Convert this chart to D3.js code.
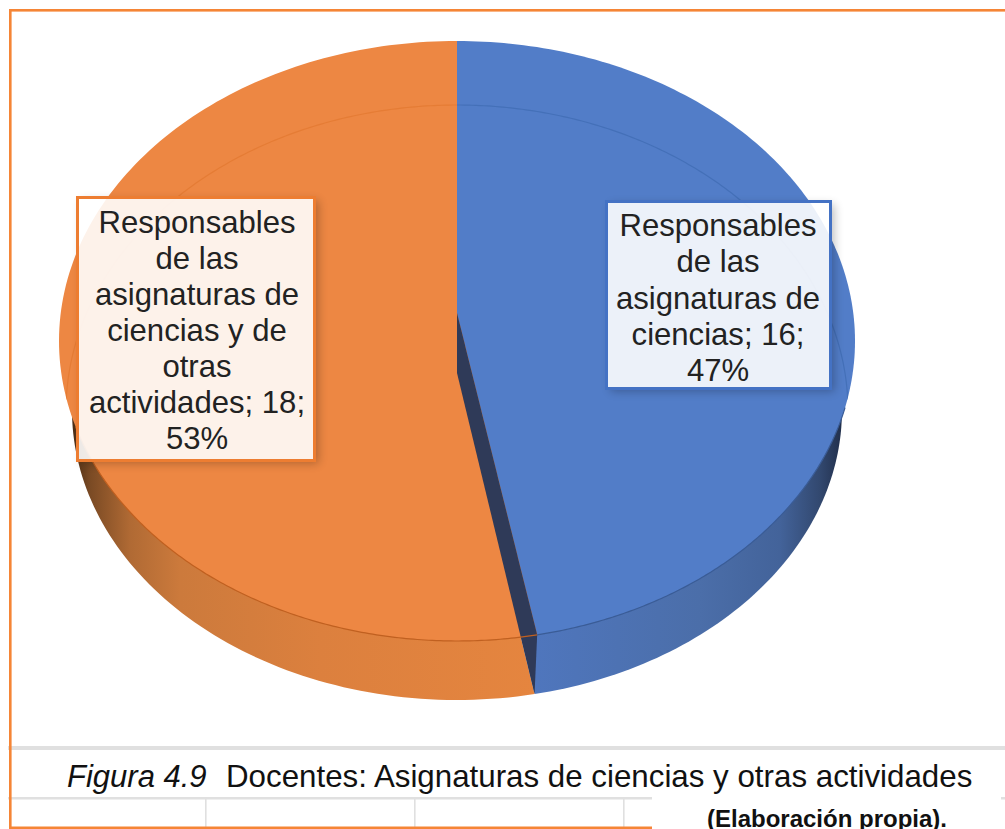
<!DOCTYPE html>
<html>
<head>
<meta charset="utf-8">
<script src="https://cdn.jsdelivr.net/npm/d3@7"></script>
<style>
html,body{margin:0;padding:0;background:#fff;overflow:hidden}
svg{display:block}
text{font-family:"Liberation Sans",Arial,sans-serif}
</style>
</head>
<body>
<div id="chart"></div>
<script>
// ---- data ----
const categories = ["Responsables de las asignaturas de ciencias", "Responsables de las asignaturas de ciencias y de otras actividades"];
const values = [16, 18];
const labelBreaks = [
  ["Responsables", "de las", "asignaturas de"],
  ["Responsables", "de las", "asignaturas de", "ciencias y de", "otras"]
];
const labelTails = ["ciencias;", "actividades;"];
const caption = ["Figura 4.9", "Docentes: Asignaturas de ciencias y otras actividades"];
const source = "(Elaboración propia).";
const gridColumns = [205, 414, 623];

// ---- styles / layout ----
const W = 1005, H = 829;
const faceColors = ["#527dc8", "#ed8743"];
const borderColors = ["#4472c4", "#ed7d31"];
const frame = "#f58536", rule = "#e0e0e0";
const topEllipse = {cx: 457, cy: 341, rx: 398, ry: 300};
const botEllipse = {cx: 457, cy: 410, rx: 385, ry: 290};
const ringEllipse = {cx: 457, cy: 411, rx: 391, ry: 306};
const topApex = [457, 313], botApex = [457, 373];
const tilt = (topApex[1] - topEllipse.cy) / topEllipse.ry;
const boxes = [
  {x: 606.5, y: 201.5, w: 224, h: 187, tx: 718, base: 236, step: 36.25},
  {x: 77.5, y: 197.5, w: 237, h: 263, tx: 197, base: 232.5, step: 36}
];

const svg = d3.select("#chart").append("svg").attr("width", W).attr("height", H);
const defs = svg.append("defs");

function gradient(id, stops) {
  const g = defs.append("linearGradient").attr("id", id).attr("gradientUnits", "userSpaceOnUse")
    .attr("x1", stops[0][0]).attr("x2", stops[stops.length - 1][0]).attr("y1", 0).attr("y2", 0);
  const span = stops[stops.length - 1][0] - stops[0][0];
  stops.forEach(s => g.append("stop").attr("offset", (s[0] - stops[0][0]) / span).attr("stop-color", s[1]));
}
gradient("wall0", [[535, "#4f76bd"], [700, "#4b6ea9"], [780, "#43639a"], [820, "#32486f"], [845, "#1f2c47"]]);
gradient("wall1", [[72, "#4a2c14"], [90, "#7a4a24"], [130, "#b06a34"], [180, "#cc7a3c"], [320, "#dc803e"], [535, "#e5853f"]]);
defs.append("filter").attr("id", "blur").attr("x", "-20%").attr("y", "-20%").attr("width", "140%").attr("height", "140%")
  .append("feGaussianBlur").attr("stdDeviation", 5);

// ---- geometry driven by d3.pie ----
const arcs = d3.pie().sort(null).value(d => d)(values);
const total = d3.sum(values);
const pct = d3.format(".0%");

function project(e, t) {
  const x = Math.sin(t), y = -Math.cos(t);
  const d = 1 + tilt * y;
  return [e.cx + e.rx * x * Math.sqrt(1 - tilt * tilt) / d, e.cy + e.ry * (y + tilt) / d];
}
function sweep(e, a0, a1) {
  const n = 160;
  return d3.range(n + 1).map(i => project(e, a0 + (a1 - a0) * i / n));
}
const line = d3.line();
const sector = (e, apex, a) => line([apex, ...sweep(e, a.startAngle, a.endAngle), apex]) + "Z";

// side walls
svg.selectAll("path.wall").data(arcs).join("path").attr("class", "wall")
  .attr("d", d => sector(botEllipse, botApex, d))
  .attr("fill", (d, i) => `url(#wall${i})`);

// faces
svg.selectAll("path.face").data(arcs).join("path").attr("class", "face")
  .attr("d", d => sector(topEllipse, topApex, d))
  .attr("fill", (d, i) => faceColors[i]);

// inner wall of the cut
const cutEnd = arcs[0].endAngle;
svg.append("path")
  .attr("d", line([topApex, project(topEllipse, cutEnd), project(botEllipse, cutEnd), botApex]) + "Z")
  .attr("fill", "#2f3a58");

// rim lines
const clip = defs.append("clipPath").attr("id", "faceClip");
clip.append("path").attr("d", line(sweep(topEllipse, 0, 2 * Math.PI)) + "Z");
const ringG = svg.append("g").attr("clip-path", "url(#faceClip)");
const ringColors = ["#4470b8", "#e57c35"];
ringG.append("path").attr("d", line(sweep(ringEllipse, 0, Math.PI * 0.55)))
  .attr("fill", "none").attr("stroke", ringColors[0]).attr("stroke-width", 1.2);
ringG.append("path").attr("d", line(sweep(ringEllipse, Math.PI * 1.45, 2 * Math.PI)))
  .attr("fill", "none").attr("stroke", ringColors[1]).attr("stroke-width", 1.2);

svg.append("path").attr("d", line(sweep(topEllipse, Math.PI * 0.6, cutEnd)))
  .attr("fill", "none").attr("stroke", "#3a5c96").attr("stroke-width", 1.2);
svg.append("path").attr("d", line(sweep(topEllipse, cutEnd, Math.PI * 1.38)))
  .attr("fill", "none").attr("stroke", "#c06020").attr("stroke-width", 1.2);

// data labels
arcs.forEach((a, i) => {
  const b = boxes[i];
  const outer = `M0,0H${W}V${H}H0Z`;
  const inner = `M${b.x},${b.y}h${b.w}v${b.h}h${-b.w}Z`;
  defs.append("clipPath").attr("id", `out${i}`).append("path").attr("d", outer + inner).attr("clip-rule", "evenodd");
  svg.append("g").attr("clip-path", `url(#out${i})`)
    .append("rect").attr("x", b.x + 4).attr("y", b.y + 3).attr("width", b.w).attr("height", b.h)
    .attr("fill", "#000").attr("opacity", 0.25).attr("filter", "url(#blur)");
  svg.append("rect").attr("x", b.x).attr("y", b.y).attr("width", b.w).attr("height", b.h)
    .attr("fill", "#fff").attr("fill-opacity", 0.89)
    .attr("stroke", borderColors[i]).attr("stroke-width", 3);
  const lines = [...labelBreaks[i], `${labelTails[i]} ${a.data};`, pct(a.data / total)];
  svg.append("g").selectAll("text").data(lines).join("text")
    .attr("x", b.tx).attr("y", (d, k) => b.base + k * b.step)
    .attr("text-anchor", "middle").attr("font-size", 31.1).attr("fill", "#222")
    .text(d => d);
});

// page furniture
svg.append("rect").attr("x", 8).attr("y", 746).attr("width", W - 8).attr("height", 4).attr("fill", rule);
svg.append("rect").attr("x", 8).attr("y", 797).attr("width", W - 8).attr("height", 2.5).attr("fill", rule);
svg.selectAll("rect.col").data(gridColumns).join("rect").attr("class", "col")
  .attr("x", d => d).attr("y", 798).attr("width", 1.6).attr("height", 31).attr("fill", rule);
svg.append("rect").attr("x", 652).attr("y", 796).attr("width", 349).attr("height", 33).attr("fill", "#fff");

const frameG = svg.append("g").attr("fill", frame);
frameG.append("rect").attr("x", 9).attr("y", 9).attr("width", W - 9).attr("height", 2.6);
frameG.append("rect").attr("x", 9).attr("y", 9).attr("width", 2.6).attr("height", H - 9);
frameG.append("rect").attr("x", 9).attr("y", 826.5).attr("width", 643).attr("height", 2.5);

svg.append("text").attr("x", 67).attr("y", 787).attr("font-size", 31).attr("font-style", "italic").attr("fill", "#111").text(caption[0]);
svg.append("text").attr("x", 226).attr("y", 787).attr("font-size", 31.3).attr("fill", "#111").text(caption[1]);
svg.append("text").attr("x", 707).attr("y", 827).attr("font-size", 24).attr("font-weight", "bold").attr("fill", "#111").text(source);
</script>
</body>
</html>
